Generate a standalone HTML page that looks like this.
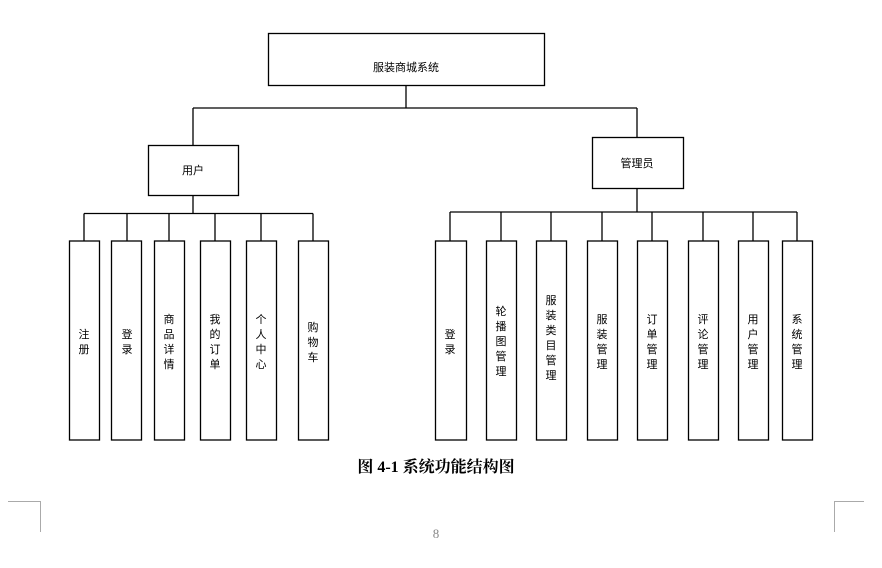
<!DOCTYPE html>
<html><head><meta charset="utf-8"><style>
html,body{margin:0;padding:0;background:#fff;}
svg{display:block;}
.t{font-family:"Liberation Sans","Noto Sans CJK SC",sans-serif;font-size:11px;fill:#000;}
</style></head><body>
<svg width="882" height="568" viewBox="0 0 882 568" xmlns="http://www.w3.org/2000/svg">
<g fill="#fff" stroke="#000" stroke-width="1.3">
<rect x="268.5" y="33.5" width="276" height="52"/>
<rect x="148.5" y="145.5" width="90" height="50"/>
<rect x="592.5" y="137.5" width="91" height="51"/>
</g>
<g stroke="#000" stroke-width="1.3" fill="none">
<path d="M406 85.5V108M193 108H637M193 108V145.5M637 108V137.5"/>
<path d="M193 195.5V213.5M84 213.5H313M84 213.5V241M127 213.5V241M169 213.5V241M215 213.5V241M261 213.5V241M313 213.5V241"/>
<path d="M637 188.5V212M450 212H797M450 212V241M501 212V241M551 212V241M602 212V241M652 212V241M703 212V241M753 212V241M797 212V241"/>
</g>
<g fill="#fff" stroke="#000" stroke-width="1.3">
<rect x="69.5" y="241" width="30" height="199"/>
<rect x="111.5" y="241" width="30" height="199"/>
<rect x="154.5" y="241" width="30" height="199"/>
<rect x="200.5" y="241" width="30" height="199"/>
<rect x="246.5" y="241" width="30" height="199"/>
<rect x="298.5" y="241" width="30" height="199"/>
<rect x="435.5" y="241" width="31" height="199"/>
<rect x="486.5" y="241" width="30" height="199"/>
<rect x="536.5" y="241" width="30" height="199"/>
<rect x="587.5" y="241" width="30" height="199"/>
<rect x="637.5" y="241" width="30" height="199"/>
<rect x="688.5" y="241" width="30" height="199"/>
<rect x="738.5" y="241" width="30" height="199"/>
<rect x="782.5" y="241" width="30" height="199"/>
</g>
<g class="t" text-anchor="middle">
<text x="406" y="71">服装商城系统</text>
<text x="193" y="174">用户</text>
<text x="637" y="167">管理员</text>
</g>
<g class="t" text-anchor="middle" id="v"></g>
<g stroke="#aaa" stroke-width="1" fill="none">
<path d="M8 501.5H40.5V532M864 501.5H834.5V532"/>
</g>
<text x="436" y="472" text-anchor="middle" style="font-family:'Liberation Serif','Noto Serif CJK SC',serif;font-size:16px;font-weight:bold;">图 4-1 系统功能结构图</text>
<text x="436" y="538" text-anchor="middle" style="font-family:'Liberation Serif',serif;font-size:13px;fill:#888;">8</text>
<g class="t" text-anchor="middle">
<text x="84" y="338">注</text><text x="84" y="353">册</text>
<text x="127" y="338">登</text><text x="127" y="353">录</text>
<text x="169" y="323">商</text><text x="169" y="338">品</text><text x="169" y="353">详</text><text x="169" y="368">情</text>
<text x="215" y="323">我</text><text x="215" y="338">的</text><text x="215" y="353">订</text><text x="215" y="368">单</text>
<text x="261" y="323">个</text><text x="261" y="338">人</text><text x="261" y="353">中</text><text x="261" y="368">心</text>
<text x="313" y="331">购</text><text x="313" y="346">物</text><text x="313" y="361">车</text>
<text x="450" y="338">登</text><text x="450" y="353">录</text>
<text x="501" y="315">轮</text><text x="501" y="330">播</text><text x="501" y="345">图</text><text x="501" y="360">管</text><text x="501" y="375">理</text>
<text x="551" y="304">服</text><text x="551" y="319">装</text><text x="551" y="334">类</text><text x="551" y="349">目</text><text x="551" y="364">管</text><text x="551" y="379">理</text>
<text x="602" y="323">服</text><text x="602" y="338">装</text><text x="602" y="353">管</text><text x="602" y="368">理</text>
<text x="652" y="323">订</text><text x="652" y="338">单</text><text x="652" y="353">管</text><text x="652" y="368">理</text>
<text x="703" y="323">评</text><text x="703" y="338">论</text><text x="703" y="353">管</text><text x="703" y="368">理</text>
<text x="753" y="323">用</text><text x="753" y="338">户</text><text x="753" y="353">管</text><text x="753" y="368">理</text>
<text x="797" y="323">系</text><text x="797" y="338">统</text><text x="797" y="353">管</text><text x="797" y="368">理</text>
</g>
</svg>
</body></html>
